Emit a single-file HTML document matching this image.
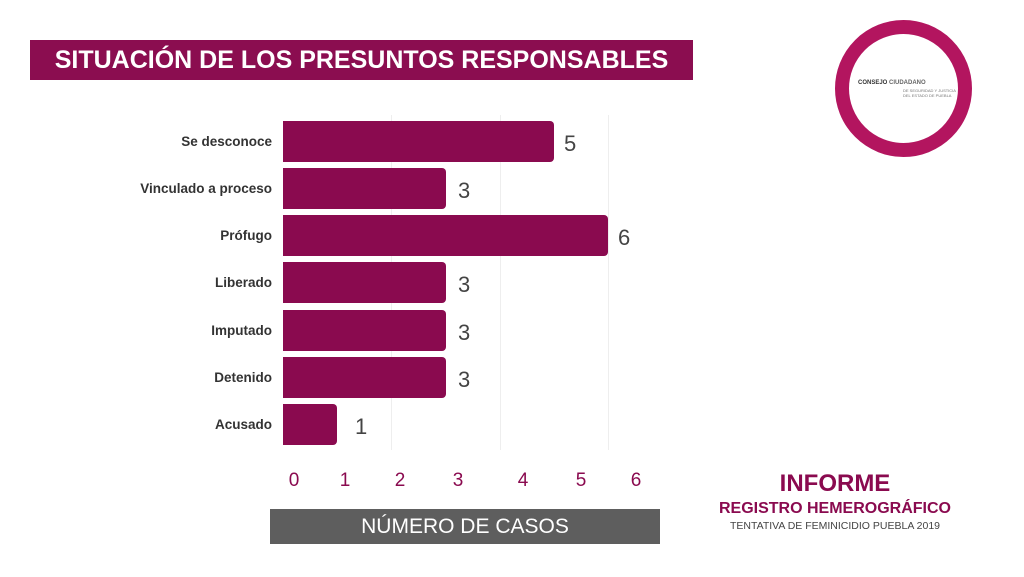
<!DOCTYPE html>
<html><head><meta charset="utf-8"><style>
body{margin:0;width:1024px;height:577px;background:#fff;position:relative;overflow:hidden;font-family:"Liberation Sans",sans-serif}
.a{position:absolute}
.bar{position:absolute;left:283px;height:41px;background:#8a0a4f;border-radius:0 4px 4px 0}
.lab{position:absolute;right:752px;font-size:13.5px;color:#333;font-weight:bold;line-height:41px;white-space:nowrap}
.val{position:absolute;font-size:22px;color:#444;line-height:41px}
.tick{position:absolute;top:470px;font-size:19px;color:#8a0a4f;width:20px;text-align:center}
.g{position:absolute;top:115px;height:335px;width:1px;background:#eee}
</style></head><body>
<div class="a" style="left:30px;top:40px;width:663px;height:40px;background:#8b0d50;color:#fff;font-size:25px;font-weight:bold;line-height:40px;text-align:center">SITUACIÓN DE LOS PRESUNTOS RESPONSABLES</div>
<div class="a" style="left:835px;top:20px;width:109px;height:109px;border:14px solid #b3155f;border-radius:50%"></div>
<div class="a" style="left:858px;top:80px;font-size:6px;color:#333;font-weight:bold">CONSEJO <span style="color:#666">CIUDADANO</span></div>
<div class="a" style="left:903px;top:88px;font-size:4px;color:#777;line-height:5px">DE SEGURIDAD Y JUSTICIA<br>DEL ESTADO DE PUEBLA</div>
<div class="g" style="left:391px"></div><div class="g" style="left:500px"></div><div class="g" style="left:608px"></div>
<div class="bar" style="top:121px;width:271px"></div><div class="lab" style="top:121px">Se desconoce</div><div class="val" style="top:123px;left:564px">5</div>
<div class="bar" style="top:168px;width:163px"></div><div class="lab" style="top:168px">Vinculado a proceso</div><div class="val" style="top:170px;left:458px">3</div>
<div class="bar" style="top:215px;width:325px"></div><div class="lab" style="top:215px">Prófugo</div><div class="val" style="top:217px;left:618px">6</div>
<div class="bar" style="top:262px;width:163px"></div><div class="lab" style="top:262px">Liberado</div><div class="val" style="top:264px;left:458px">3</div>
<div class="bar" style="top:310px;width:163px"></div><div class="lab" style="top:310px">Imputado</div><div class="val" style="top:312px;left:458px">3</div>
<div class="bar" style="top:357px;width:163px"></div><div class="lab" style="top:357px">Detenido</div><div class="val" style="top:359px;left:458px">3</div>
<div class="bar" style="top:404px;width:54px"></div><div class="lab" style="top:404px">Acusado</div><div class="val" style="top:406px;left:355px">1</div>
<div class="tick" style="left:284px">0</div><div class="tick" style="left:335px">1</div><div class="tick" style="left:390px">2</div><div class="tick" style="left:448px">3</div><div class="tick" style="left:513px">4</div><div class="tick" style="left:571px">5</div><div class="tick" style="left:626px">6</div>
<div class="a" style="left:270px;top:509px;width:390px;height:35px;background:#5e5e5e;color:#fff;font-size:21px;line-height:35px;text-align:center">NÚMERO DE CASOS</div>
<div class="a" style="left:700px;top:470px;width:270px;text-align:center;color:#8a0a4f;font-weight:bold;font-size:24px">INFORME</div>
<div class="a" style="left:700px;top:500px;width:270px;text-align:center;color:#8a0a4f;font-weight:bold;font-size:16px">REGISTRO HEMEROGRÁFICO</div>
<div class="a" style="left:700px;top:520px;width:270px;text-align:center;color:#444;font-size:10.5px">TENTATIVA DE FEMINICIDIO PUEBLA 2019</div>
</body></html>
